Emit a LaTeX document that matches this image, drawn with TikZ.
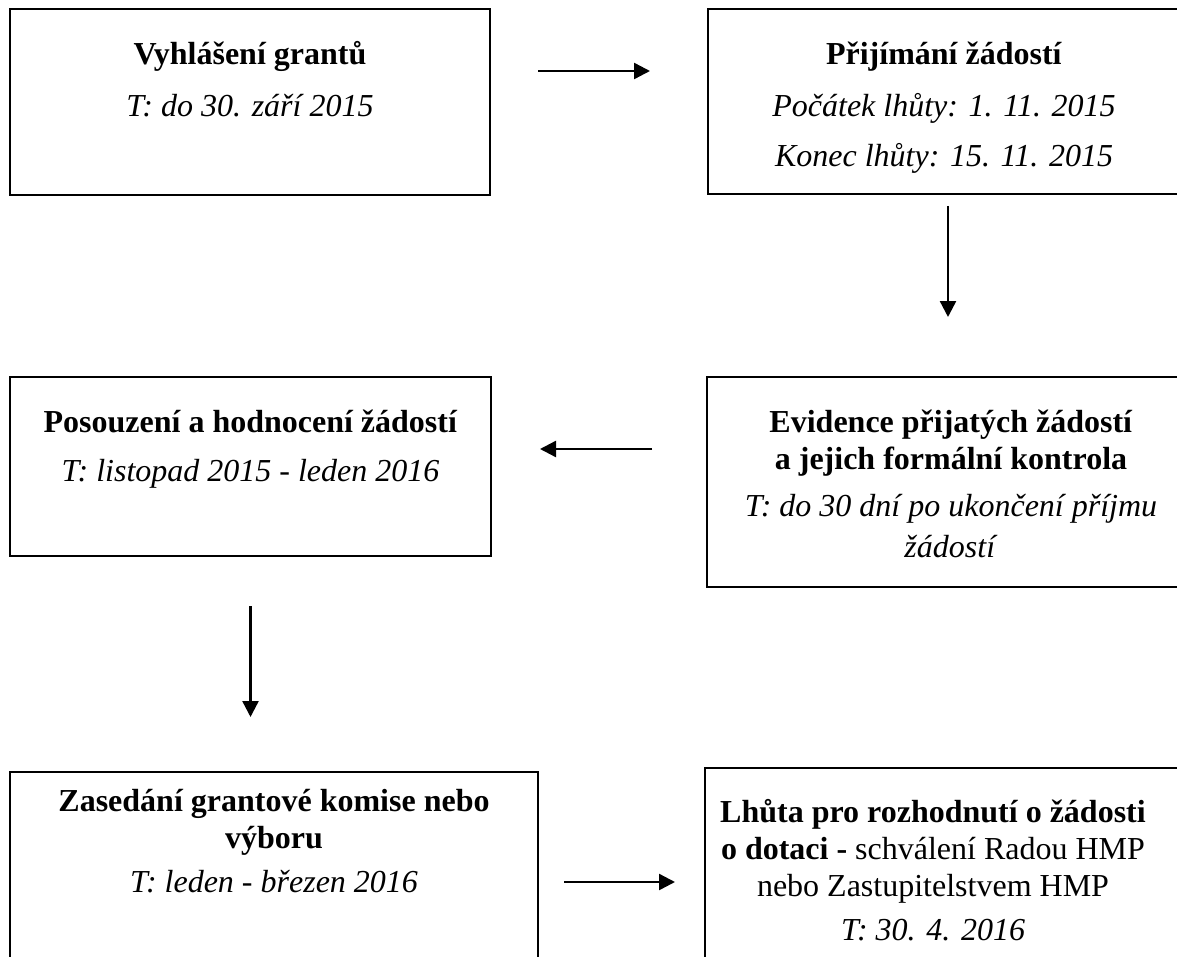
\documentclass[tikz,border=0pt]{standalone}
\usepackage{fontspec}
\setmainfont{Liberation Serif}
\usetikzlibrary{arrows.meta,positioning}

\newcommand{\topstrut}{\rule{0pt}{15pt}}

\begin{document}
\begin{tikzpicture}[x=0.5pt,y=-0.5pt]
  \useasboundingbox (0,0) rectangle (1177,957);
  \clip (0,0) rectangle (1177,957);
  \begin{scope}[every node/.style={draw,line width=1pt,inner sep=0pt}]
    \node (vyhlaseni) [minimum width=240pt,minimum height=93pt] at (250,102) {};
    \node (prijimani) [minimum width=240pt,minimum height=92.5pt] at (948,101.5) {};
    \node (posouzeni) [minimum width=240.5pt,minimum height=89.5pt] at (250.5,466.5) {};
    \node (evidence) [minimum width=240pt,minimum height=105pt] at (947,482) {};
    \node (zasedani) [minimum width=264pt,minimum height=100pt] at (274,872) {};
    \node (lhuta) [minimum width=240pt,minimum height=102pt] at (945,870) {};
  \end{scope}
  \begin{scope}[every node/.style={align=center,inner sep=0pt,
      font=\fontsize{16}{18.5}\selectfont}]
    \node (t1) [below=13pt of vyhlaseni.north]
      {\topstrut\textbf{Vyhlášení grantů}\\[7.5pt]
       \textit{T: do 30. září 2015}};
    \node (t2) [below=13pt of prijimani.north,xshift=-2pt]
      {\topstrut\textbf{Přijímání žádostí}\\[7.5pt]
       \textit{Počátek lhůty: 1. 11. 2015}\\[6.5pt]
       \textit{Konec lhůty: 15. 11. 2015}};
    \node (t3) [below=13pt of posouzeni.north]
      {\topstrut\textbf{Posouzení a hodnocení žádostí}\\[6pt]
       \textit{T: listopad 2015 - leden 2016}};
    \node (t4) [below=13pt of evidence.north,xshift=2pt]
      {\topstrut\textbf{Evidence přijatých žádostí}\\
       \textbf{a jejich formální kontrola}\\[5pt]
       \textit{T: do 30 dní po ukončení příjmu}\\[2pt]
       \textit{žádostí}};
    \node (t5) [below=5pt of zasedani.north]
      {\topstrut\textbf{Zasedání grantové komise nebo}\\
       \textbf{výboru}\\[3.5pt]
       \textit{T: leden - březen 2016}};
    \node (t6) [below=12.5pt of lhuta.north,xshift=-6pt]
      {\topstrut\textbf{Lhůta pro rozhodnutí o žádosti}\\
       \textbf{o dotaci -} schválení Radou HMP\\
       nebo Zastupitelstvem HMP\\[3.5pt]
       \textit{T: 30. 4. 2016}};
  \end{scope}
  \coordinate (a1) at ([yshift=15.5pt]vyhlaseni.east);
  \coordinate (a3) at ([yshift=16.5pt]evidence.west);
  \coordinate (a5) at ([yshift=-5pt]zasedani.east);
  \begin{scope}
    [every edge/.style={draw=black,line width=1.2pt,
      -{Triangle[length=8pt,width=8pt]}}]
    \path (a1) edge[shorten <=23.5pt,shorten >=28.5pt] (a1 -| prijimani.west);
    \path (prijimani.south) edge[shorten <=5.5pt,shorten >=29.5pt] (prijimani.south |- evidence.north);
    \path (a3) edge[shorten <=27pt,shorten >=24pt] (a3 -| posouzeni.east);
    \path (posouzeni.south) edge[shorten <=24.5pt,shorten >=27pt] (posouzeni.south |- zasedani.north);
    \path (a5) edge[shorten <=12.5pt,shorten >=14.5pt] (a5 -| lhuta.west);
  \end{scope}
\end{tikzpicture}
\end{document}
